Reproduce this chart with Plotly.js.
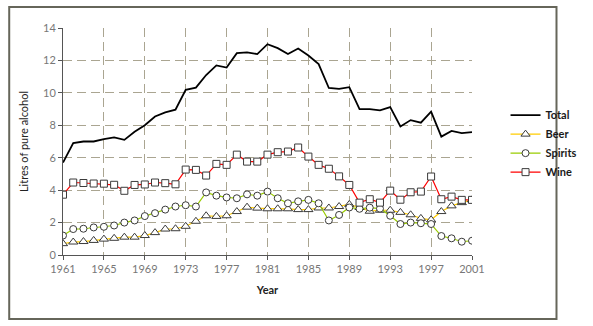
<!DOCTYPE html>
<html>
<head>
<meta charset="utf-8">
<script src="https://cdn.plot.ly/plotly-3.0.1.min.js"></script>
<style>
html,body{margin:0;padding:0;background:#fff;}
#chart{width:593px;height:326px;}
</style>
</head>
<body>
<div id="chart"></div>
<script>
var years = [1961,1962,1963,1964,1965,1966,1967,1968,1969,1970,1971,1972,1973,1974,1975,1976,1977,1978,1979,1980,1981,1982,1983,1984,1985,1986,1987,1988,1989,1990,1991,1992,1993,1994,1995,1996,1997,1998,1999,2000,2001];
var total = [5.7,6.9,7.0,7.0,7.15,7.25,7.1,7.6,8.0,8.54,8.8,8.96,10.19,10.32,11.1,11.69,11.56,12.45,12.5,12.39,13.0,12.76,12.4,12.74,12.3,11.77,10.3,10.25,10.35,9.0,9.0,8.92,9.12,7.93,8.32,8.16,8.84,7.3,7.65,7.52,7.58];
var beer = [0.7,0.8,0.83,0.9,0.98,1.03,1.1,1.1,1.2,1.38,1.6,1.62,1.77,2.08,2.42,2.38,2.42,2.68,2.95,2.89,2.85,2.85,2.85,2.8,2.8,2.9,2.9,2.99,3.12,2.93,2.7,2.76,2.76,2.63,2.48,2.26,2.17,2.68,3.03,3.23,3.4];
var spirits = [1.2,1.6,1.62,1.7,1.74,1.82,2.0,2.13,2.4,2.58,2.8,2.99,3.07,2.99,3.86,3.66,3.55,3.5,3.74,3.66,3.91,3.5,3.19,3.31,3.4,3.19,2.13,2.47,2.93,2.85,2.92,2.86,2.42,1.91,2.0,1.96,1.91,1.17,1.03,0.82,0.88];
var wine = [3.72,4.47,4.44,4.41,4.4,4.33,3.96,4.32,4.35,4.47,4.43,4.36,5.27,5.25,4.9,5.62,5.56,6.19,5.76,5.76,6.19,6.34,6.38,6.63,6.07,5.56,5.32,4.85,4.32,3.23,3.44,3.23,3.97,3.41,3.87,3.91,4.84,3.44,3.6,3.4,3.4];
var xTicks = [1961,1965,1969,1973,1977,1981,1985,1989,1993,1997,2001];
var yTicks = [0,2,4,6,8,10,12,14];
var names = ['Total','Beer','Spirits','Wine'];

var FONT = 'Lato, "Open Sans", sans-serif';
function mk(sym, sz){ return {symbol: sym, size: sz, color: '#ffffff', line: {color: '#3a3a3a', width: 1}}; }
var traces = [
  {x: years, y: total, name: names[0], mode: 'lines', line: {color: '#000000', width: 1.8}},
  {x: years, y: beer, name: names[1], mode: 'lines+markers', line: {color: '#ffcc00', width: 1.2}, marker: mk('triangle-up', 8)},
  {x: years, y: spirits, name: names[2], mode: 'lines+markers', line: {color: '#99cc00', width: 1.2}, marker: mk('circle', 7)},
  {x: years, y: wine, name: names[3], mode: 'lines+markers', line: {color: '#ff0000', width: 1.2}, marker: mk('square', 7)}
];

var layout = {
  width: 593, height: 326,
  margin: {l: 63, r: 104, t: 28, b: 71},
  paper_bgcolor: '#ffffff', plot_bgcolor: '#ffffff',
  font: {family: FONT, size: 11, color: '#777777'},
  showlegend: true,
  legend: {x: 1.082, y: 0.68, xanchor: 'left', yanchor: 'top', bgcolor: 'rgba(0,0,0,0)',
           font: {family: FONT, size: 11, color: '#1a1a1a', weight: 'bold'},
           tracegroupgap: 0, itemwidth: 30},
  xaxis: {
    range: [1961, 2001], tickvals: xTicks, ticktext: xTicks.map(String),
    showgrid: true, gridcolor: '#aaa591', griddash: '9px,5px', gridwidth: 1,
    zeroline: false, showline: true, linecolor: '#555555', linewidth: 1,
    ticks: 'outside', ticklen: 4, tickcolor: '#555555',
    tickfont: {family: FONT, size: 11, color: '#777777'},
    title: {text: 'Year', font: {family: FONT, size: 11, color: '#222222', weight: 'bold'}, standoff: 12}
  },
  yaxis: {
    range: [0, 14], tickvals: yTicks,
    showgrid: true, gridcolor: '#aaa591', griddash: '9px,5px', gridwidth: 1,
    zeroline: false, showline: true, linecolor: '#555555', linewidth: 1,
    ticks: 'outside', ticklen: 4, tickcolor: '#555555',
    tickfont: {family: FONT, size: 11, color: '#777777'},
    title: {text: 'Litres of pure alcohol', font: {family: FONT, size: 11, color: '#222222'}, standoff: 12}
  },
  shapes: [
    {type: 'rect', xref: 'paper', yref: 'paper', x0: -0.1315, x1: 1.2066, y0: -0.2819, y1: 1.0925,
     line: {color: '#66665a', width: 2}, fillcolor: 'rgba(0,0,0,0)', layer: 'below'}
  ]
};
Plotly.newPlot('chart', traces, layout, {displayModeBar: false, staticPlot: true});
</script>
</body>
</html>
